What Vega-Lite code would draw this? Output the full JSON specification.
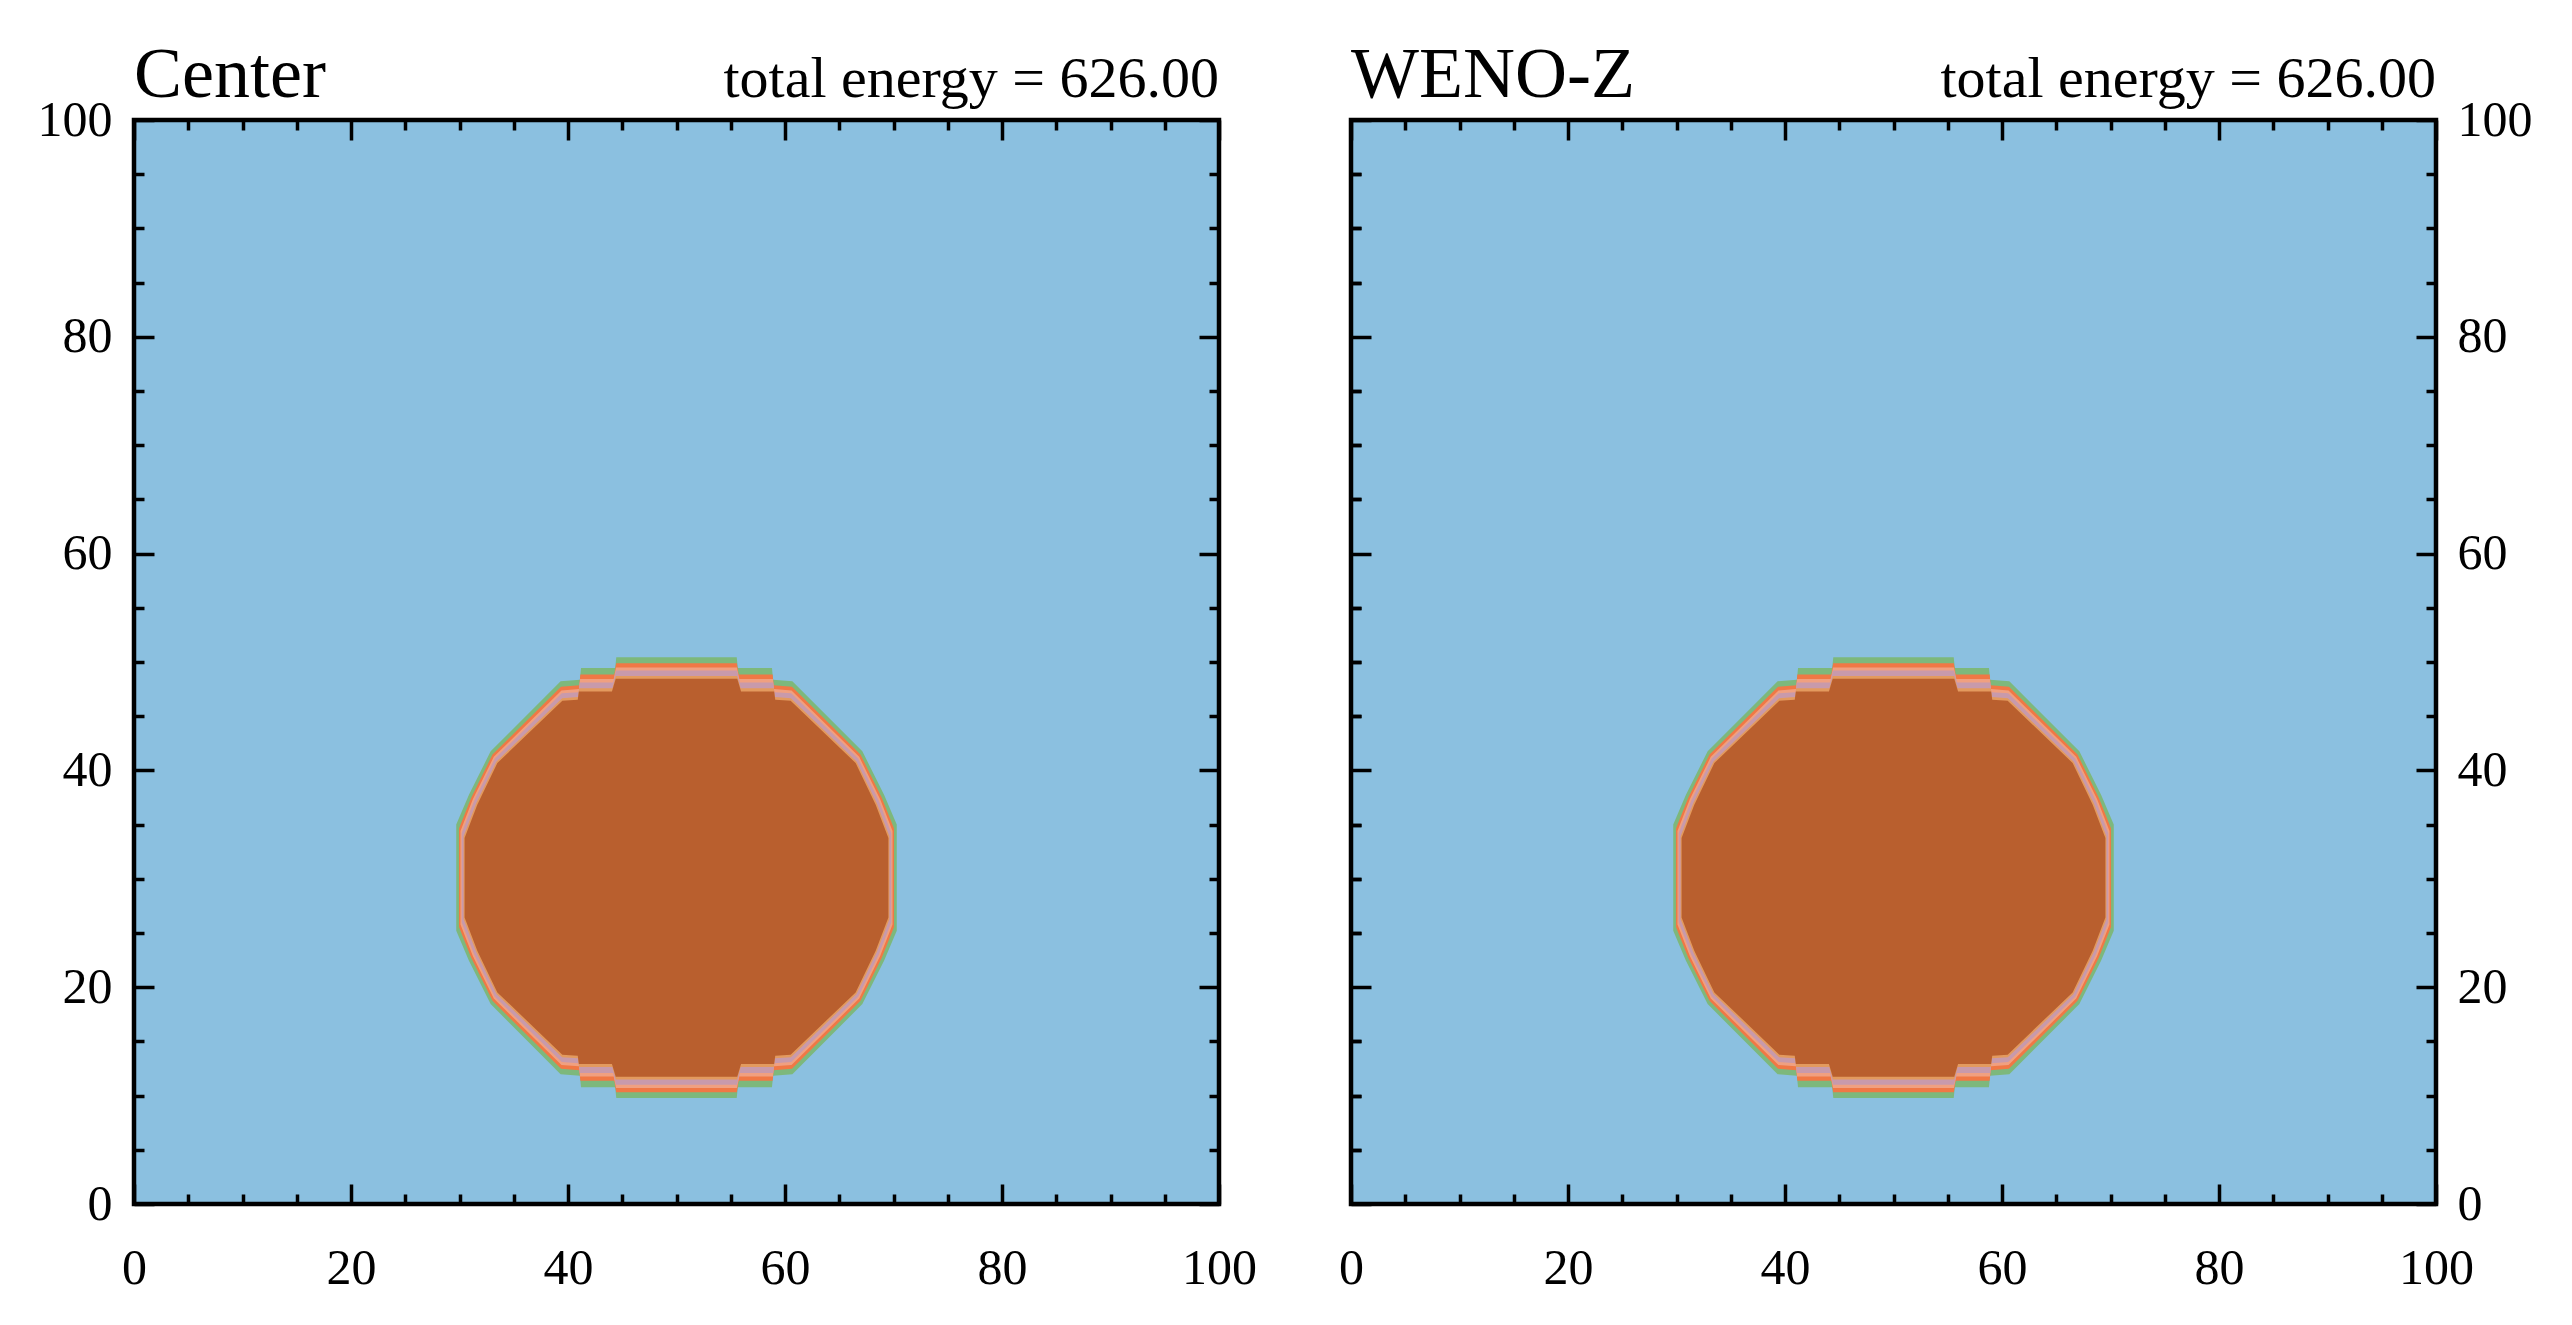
{
  "$schema": "https://vega.github.io/schema/vega-lite/v6.json",
  "background": "white",
  "padding": {"left": 34, "top": 36, "right": 10, "bottom": 10},
  "spacing": 77,
  "datasets": {
    "edge": [
      {"lvl": 1, "x": 29.70, "top": 35.00, "bot": 25.20},
      {"lvl": 1, "x": 30.87, "top": 37.76, "bot": 22.44},
      {"lvl": 1, "x": 32.87, "top": 41.76, "bot": 18.44},
      {"lvl": 1, "x": 39.32, "top": 48.22, "bot": 11.98},
      {"lvl": 1, "x": 41.10, "top": 48.37, "bot": 11.83},
      {"lvl": 1, "x": 41.20, "top": 49.44, "bot": 10.76},
      {"lvl": 1, "x": 44.35, "top": 49.44, "bot": 10.76},
      {"lvl": 1, "x": 44.45, "top": 50.43, "bot": 9.77},
      {"lvl": 1, "x": 55.55, "top": 50.43, "bot": 9.77},
      {"lvl": 1, "x": 55.65, "top": 49.44, "bot": 10.76},
      {"lvl": 1, "x": 58.80, "top": 49.44, "bot": 10.76},
      {"lvl": 1, "x": 58.90, "top": 48.37, "bot": 11.83},
      {"lvl": 1, "x": 60.68, "top": 48.22, "bot": 11.98},
      {"lvl": 1, "x": 67.13, "top": 41.76, "bot": 18.44},
      {"lvl": 1, "x": 69.13, "top": 37.76, "bot": 22.44},
      {"lvl": 1, "x": 70.30, "top": 35.00, "bot": 25.20},

      {"lvl": 2, "x": 29.95, "top": 34.65, "bot": 25.55},
      {"lvl": 2, "x": 31.09, "top": 37.50, "bot": 22.70},
      {"lvl": 2, "x": 33.04, "top": 41.46, "bot": 18.74},
      {"lvl": 2, "x": 39.36, "top": 47.72, "bot": 12.48},
      {"lvl": 2, "x": 41.04, "top": 47.85, "bot": 12.35},
      {"lvl": 2, "x": 41.14, "top": 48.84, "bot": 11.36},
      {"lvl": 2, "x": 44.27, "top": 48.84, "bot": 11.36},
      {"lvl": 2, "x": 44.44, "top": 49.88, "bot": 10.32},
      {"lvl": 2, "x": 55.56, "top": 49.88, "bot": 10.32},
      {"lvl": 2, "x": 55.73, "top": 48.84, "bot": 11.36},
      {"lvl": 2, "x": 58.86, "top": 48.84, "bot": 11.36},
      {"lvl": 2, "x": 58.96, "top": 47.85, "bot": 12.35},
      {"lvl": 2, "x": 60.64, "top": 47.72, "bot": 12.48},
      {"lvl": 2, "x": 66.96, "top": 41.46, "bot": 18.74},
      {"lvl": 2, "x": 68.91, "top": 37.50, "bot": 22.70},
      {"lvl": 2, "x": 70.05, "top": 34.65, "bot": 25.55},

      {"lvl": 3, "x": 30.09, "top": 34.42, "bot": 25.78},
      {"lvl": 3, "x": 31.23, "top": 37.33, "bot": 22.87},
      {"lvl": 3, "x": 33.16, "top": 41.25, "bot": 18.95},
      {"lvl": 3, "x": 39.40, "top": 47.38, "bot": 12.82},
      {"lvl": 3, "x": 41.01, "top": 47.50, "bot": 12.70},
      {"lvl": 3, "x": 41.11, "top": 48.43, "bot": 11.77},
      {"lvl": 3, "x": 44.21, "top": 48.43, "bot": 11.77},
      {"lvl": 3, "x": 44.43, "top": 49.50, "bot": 10.70},
      {"lvl": 3, "x": 55.57, "top": 49.50, "bot": 10.70},
      {"lvl": 3, "x": 55.79, "top": 48.43, "bot": 11.77},
      {"lvl": 3, "x": 58.89, "top": 48.43, "bot": 11.77},
      {"lvl": 3, "x": 58.99, "top": 47.50, "bot": 12.70},
      {"lvl": 3, "x": 60.60, "top": 47.38, "bot": 12.82},
      {"lvl": 3, "x": 66.84, "top": 41.25, "bot": 18.95},
      {"lvl": 3, "x": 68.77, "top": 37.33, "bot": 22.87},
      {"lvl": 3, "x": 69.91, "top": 34.42, "bot": 25.78},

      {"lvl": 4, "x": 30.20, "top": 34.23, "bot": 25.97},
      {"lvl": 4, "x": 31.35, "top": 37.19, "bot": 23.01},
      {"lvl": 4, "x": 33.25, "top": 41.09, "bot": 19.11},
      {"lvl": 4, "x": 39.42, "top": 47.11, "bot": 13.09},
      {"lvl": 4, "x": 40.98, "top": 47.22, "bot": 12.98},
      {"lvl": 4, "x": 41.08, "top": 48.11, "bot": 12.09},
      {"lvl": 4, "x": 44.16, "top": 48.11, "bot": 12.09},
      {"lvl": 4, "x": 44.42, "top": 49.21, "bot": 10.99},
      {"lvl": 4, "x": 55.58, "top": 49.21, "bot": 10.99},
      {"lvl": 4, "x": 55.84, "top": 48.11, "bot": 12.09},
      {"lvl": 4, "x": 58.92, "top": 48.11, "bot": 12.09},
      {"lvl": 4, "x": 59.02, "top": 47.22, "bot": 12.98},
      {"lvl": 4, "x": 60.58, "top": 47.11, "bot": 13.09},
      {"lvl": 4, "x": 66.75, "top": 41.09, "bot": 19.11},
      {"lvl": 4, "x": 68.65, "top": 37.19, "bot": 23.01},
      {"lvl": 4, "x": 69.80, "top": 34.23, "bot": 25.97},

      {"lvl": 5, "x": 30.38, "top": 33.92, "bot": 26.28},
      {"lvl": 5, "x": 31.54, "top": 36.96, "bot": 23.24},
      {"lvl": 5, "x": 33.41, "top": 40.82, "bot": 19.38},
      {"lvl": 5, "x": 39.46, "top": 46.66, "bot": 13.54},
      {"lvl": 5, "x": 40.93, "top": 46.76, "bot": 13.44},
      {"lvl": 5, "x": 41.03, "top": 47.57, "bot": 12.63},
      {"lvl": 5, "x": 44.09, "top": 47.57, "bot": 12.63},
      {"lvl": 5, "x": 44.41, "top": 48.72, "bot": 11.48},
      {"lvl": 5, "x": 55.59, "top": 48.72, "bot": 11.48},
      {"lvl": 5, "x": 55.91, "top": 47.57, "bot": 12.63},
      {"lvl": 5, "x": 58.97, "top": 47.57, "bot": 12.63},
      {"lvl": 5, "x": 59.07, "top": 46.76, "bot": 13.44},
      {"lvl": 5, "x": 60.54, "top": 46.66, "bot": 13.54},
      {"lvl": 5, "x": 66.59, "top": 40.82, "bot": 19.38},
      {"lvl": 5, "x": 68.46, "top": 36.96, "bot": 23.24},
      {"lvl": 5, "x": 69.62, "top": 33.92, "bot": 26.28},

      {"lvl": 6, "x": 30.47, "top": 33.76, "bot": 26.44},
      {"lvl": 6, "x": 31.64, "top": 36.84, "bot": 23.36},
      {"lvl": 6, "x": 33.49, "top": 40.68, "bot": 19.52},
      {"lvl": 6, "x": 39.48, "top": 46.43, "bot": 13.77},
      {"lvl": 6, "x": 40.90, "top": 46.52, "bot": 13.68},
      {"lvl": 6, "x": 41.00, "top": 47.29, "bot": 12.91},
      {"lvl": 6, "x": 44.05, "top": 47.29, "bot": 12.91},
      {"lvl": 6, "x": 44.40, "top": 48.46, "bot": 11.74},
      {"lvl": 6, "x": 55.60, "top": 48.46, "bot": 11.74},
      {"lvl": 6, "x": 55.95, "top": 47.29, "bot": 12.91},
      {"lvl": 6, "x": 59.00, "top": 47.29, "bot": 12.91},
      {"lvl": 6, "x": 59.10, "top": 46.52, "bot": 13.68},
      {"lvl": 6, "x": 60.52, "top": 46.43, "bot": 13.77},
      {"lvl": 6, "x": 66.51, "top": 40.68, "bot": 19.52},
      {"lvl": 6, "x": 68.36, "top": 36.84, "bot": 23.36},
      {"lvl": 6, "x": 69.53, "top": 33.76, "bot": 26.44}
    ]
  },
  "hconcat": [
    {
      "width": 1085,
      "height": 1084,
      "resolve": {"axis": {"x": "independent", "y": "independent"}},
      "layer": [
        {
          "data": {"name": "edge"},
          "transform": [{"filter": "datum.lvl == 1"}],
          "mark": {"type": "area", "orient": "vertical", "color": "#7db87c", "interpolate": "linear"},
          "encoding": {
            "x": {"field": "x", "type": "quantitative", "scale": {"domain": [0, 100], "nice": false, "zero": false},
                  "axis": {"orient": "bottom", "values": [0, 20, 40, 60, 80, 100], "ticks": false, "labelPadding": 39, "title": null}},
            "y": {"field": "top", "type": "quantitative", "scale": {"domain": [0, 100], "nice": false, "zero": false},
                  "axis": {"orient": "left", "values": [0, 20, 40, 60, 80, 100], "ticks": false, "labelPadding": 22, "title": null}},
            "y2": {"field": "bot"}
          }
        },
        {
          "data": {"name": "edge"},
          "transform": [{"filter": "datum.lvl == 2"}],
          "mark": {"type": "area", "orient": "vertical", "color": "#f07845", "interpolate": "linear"},
          "encoding": {
            "x": {"field": "x", "type": "quantitative", "scale": {"domain": [0, 100], "nice": false, "zero": false},
                  "axis": {"orient": "bottom", "values": [0, 20, 40, 60, 80, 100], "labels": false, "tickSize": -20, "title": null}},
            "y": {"field": "top", "type": "quantitative", "scale": {"domain": [0, 100], "nice": false, "zero": false},
                  "axis": {"orient": "left", "values": [0, 20, 40, 60, 80, 100], "labels": false, "tickSize": -20, "title": null}},
            "y2": {"field": "bot"}
          }
        },
        {
          "data": {"name": "edge"},
          "transform": [{"filter": "datum.lvl == 3"}],
          "mark": {"type": "area", "orient": "vertical", "color": "#f0a080", "interpolate": "linear"},
          "encoding": {
            "x": {"field": "x", "type": "quantitative", "scale": {"domain": [0, 100], "nice": false, "zero": false},
                  "axis": {"orient": "bottom", "values": [5, 10, 15, 25, 30, 35, 45, 50, 55, 65, 70, 75, 85, 90, 95], "labels": false, "tickSize": -10, "title": null}},
            "y": {"field": "top", "type": "quantitative", "scale": {"domain": [0, 100], "nice": false, "zero": false},
                  "axis": {"orient": "left", "values": [5, 10, 15, 25, 30, 35, 45, 50, 55, 65, 70, 75, 85, 90, 95], "labels": false, "tickSize": -10, "title": null}},
            "y2": {"field": "bot"}
          }
        },
        {
          "data": {"name": "edge"},
          "transform": [{"filter": "datum.lvl == 4"}],
          "mark": {"type": "area", "orient": "vertical", "color": "#c89aab", "interpolate": "linear"},
          "encoding": {
            "x": {"field": "x", "type": "quantitative", "scale": {"domain": [0, 100], "nice": false, "zero": false},
                  "axis": {"orient": "top", "values": [0, 20, 40, 60, 80, 100], "labels": false, "tickSize": -20, "title": null}},
            "y": {"field": "top", "type": "quantitative", "scale": {"domain": [0, 100], "nice": false, "zero": false},
                  "axis": {"orient": "right", "values": [0, 20, 40, 60, 80, 100], "labels": false, "tickSize": -20, "title": null}},
            "y2": {"field": "bot"}
          }
        },
        {
          "data": {"name": "edge"},
          "transform": [{"filter": "datum.lvl == 5"}],
          "mark": {"type": "area", "orient": "vertical", "color": "#e39a5e", "interpolate": "linear"},
          "encoding": {
            "x": {"field": "x", "type": "quantitative", "scale": {"domain": [0, 100], "nice": false, "zero": false},
                  "axis": {"orient": "top", "values": [5, 10, 15, 25, 30, 35, 45, 50, 55, 65, 70, 75, 85, 90, 95], "labels": false, "tickSize": -10, "title": null}},
            "y": {"field": "top", "type": "quantitative", "scale": {"domain": [0, 100], "nice": false, "zero": false},
                  "axis": {"orient": "right", "values": [5, 10, 15, 25, 30, 35, 45, 50, 55, 65, 70, 75, 85, 90, 95], "labels": false, "tickSize": -10, "title": null}},
            "y2": {"field": "bot"}
          }
        },
        {
          "data": {"name": "edge"},
          "transform": [{"filter": "datum.lvl == 6"}],
          "mark": {"type": "area", "orient": "vertical", "color": "#b95f2e", "interpolate": "linear"},
          "encoding": {
            "x": {"field": "x", "type": "quantitative", "scale": {"domain": [0, 100], "nice": false, "zero": false}, "axis": null},
            "y": {"field": "top", "type": "quantitative", "scale": {"domain": [0, 100], "nice": false, "zero": false}, "axis": null},
            "y2": {"field": "bot"}
          }
        },
        {
          "data": {"values": [{"name": "Center", "energy": "total energy = 626.00"}]},
          "layer": [
            {
              "mark": {"type": "text", "align": "left", "baseline": "alphabetic", "dy": -23, "font": "Liberation Serif", "fontSize": 72, "color": "black"},
              "encoding": {
                "x": {"datum": 0, "type": "quantitative", "axis": null},
                "y": {"datum": 100, "type": "quantitative", "axis": null},
                "text": {"field": "name"}
              }
            },
            {
              "mark": {"type": "text", "align": "right", "baseline": "alphabetic", "dy": -23, "font": "Liberation Serif", "fontSize": 58, "color": "black"},
              "encoding": {
                "x": {"datum": 100, "type": "quantitative", "axis": null},
                "y": {"datum": 100, "type": "quantitative", "axis": null},
                "text": {"field": "energy"}
              }
            }
          ]
        }
      ]
    },
    {
      "width": 1085,
      "height": 1084,
      "resolve": {"axis": {"x": "independent", "y": "independent"}},
      "layer": [
        {
          "data": {"name": "edge"},
          "transform": [{"filter": "datum.lvl == 1"}],
          "mark": {"type": "area", "orient": "vertical", "color": "#7db87c", "interpolate": "linear"},
          "encoding": {
            "x": {"field": "x", "type": "quantitative", "scale": {"domain": [0, 100], "nice": false, "zero": false},
                  "axis": {"orient": "bottom", "values": [0, 20, 40, 60, 80, 100], "ticks": false, "labelPadding": 39, "title": null}},
            "y": {"field": "top", "type": "quantitative", "scale": {"domain": [0, 100], "nice": false, "zero": false},
                  "axis": {"orient": "right", "values": [0, 20, 40, 60, 80, 100], "ticks": false, "labelPadding": 21, "title": null}},
            "y2": {"field": "bot"}
          }
        },
        {
          "data": {"name": "edge"},
          "transform": [{"filter": "datum.lvl == 2"}],
          "mark": {"type": "area", "orient": "vertical", "color": "#f07845", "interpolate": "linear"},
          "encoding": {
            "x": {"field": "x", "type": "quantitative", "scale": {"domain": [0, 100], "nice": false, "zero": false},
                  "axis": {"orient": "bottom", "values": [0, 20, 40, 60, 80, 100], "labels": false, "tickSize": -20, "title": null}},
            "y": {"field": "top", "type": "quantitative", "scale": {"domain": [0, 100], "nice": false, "zero": false},
                  "axis": {"orient": "left", "values": [0, 20, 40, 60, 80, 100], "labels": false, "tickSize": -20, "title": null}},
            "y2": {"field": "bot"}
          }
        },
        {
          "data": {"name": "edge"},
          "transform": [{"filter": "datum.lvl == 3"}],
          "mark": {"type": "area", "orient": "vertical", "color": "#f0a080", "interpolate": "linear"},
          "encoding": {
            "x": {"field": "x", "type": "quantitative", "scale": {"domain": [0, 100], "nice": false, "zero": false},
                  "axis": {"orient": "bottom", "values": [5, 10, 15, 25, 30, 35, 45, 50, 55, 65, 70, 75, 85, 90, 95], "labels": false, "tickSize": -10, "title": null}},
            "y": {"field": "top", "type": "quantitative", "scale": {"domain": [0, 100], "nice": false, "zero": false},
                  "axis": {"orient": "left", "values": [5, 10, 15, 25, 30, 35, 45, 50, 55, 65, 70, 75, 85, 90, 95], "labels": false, "tickSize": -10, "title": null}},
            "y2": {"field": "bot"}
          }
        },
        {
          "data": {"name": "edge"},
          "transform": [{"filter": "datum.lvl == 4"}],
          "mark": {"type": "area", "orient": "vertical", "color": "#c89aab", "interpolate": "linear"},
          "encoding": {
            "x": {"field": "x", "type": "quantitative", "scale": {"domain": [0, 100], "nice": false, "zero": false},
                  "axis": {"orient": "top", "values": [0, 20, 40, 60, 80, 100], "labels": false, "tickSize": -20, "title": null}},
            "y": {"field": "top", "type": "quantitative", "scale": {"domain": [0, 100], "nice": false, "zero": false},
                  "axis": {"orient": "right", "values": [0, 20, 40, 60, 80, 100], "labels": false, "tickSize": -20, "title": null}},
            "y2": {"field": "bot"}
          }
        },
        {
          "data": {"name": "edge"},
          "transform": [{"filter": "datum.lvl == 5"}],
          "mark": {"type": "area", "orient": "vertical", "color": "#e39a5e", "interpolate": "linear"},
          "encoding": {
            "x": {"field": "x", "type": "quantitative", "scale": {"domain": [0, 100], "nice": false, "zero": false},
                  "axis": {"orient": "top", "values": [5, 10, 15, 25, 30, 35, 45, 50, 55, 65, 70, 75, 85, 90, 95], "labels": false, "tickSize": -10, "title": null}},
            "y": {"field": "top", "type": "quantitative", "scale": {"domain": [0, 100], "nice": false, "zero": false},
                  "axis": {"orient": "right", "values": [5, 10, 15, 25, 30, 35, 45, 50, 55, 65, 70, 75, 85, 90, 95], "labels": false, "tickSize": -10, "title": null}},
            "y2": {"field": "bot"}
          }
        },
        {
          "data": {"name": "edge"},
          "transform": [{"filter": "datum.lvl == 6"}],
          "mark": {"type": "area", "orient": "vertical", "color": "#b95f2e", "interpolate": "linear"},
          "encoding": {
            "x": {"field": "x", "type": "quantitative", "scale": {"domain": [0, 100], "nice": false, "zero": false}, "axis": null},
            "y": {"field": "top", "type": "quantitative", "scale": {"domain": [0, 100], "nice": false, "zero": false},
                  "axis": {"orient": "left", "values": [5, 10, 15, 25, 30, 35, 45, 50, 55, 65, 70, 75, 85, 90, 95], "labels": false, "tickSize": -10, "title": null}},
            "y2": {"field": "bot"}
          }
        },
        {
          "data": {"values": [{"name": "WENO-Z", "energy": "total energy = 626.00"}]},
          "layer": [
            {
              "mark": {"type": "text", "align": "left", "baseline": "alphabetic", "dy": -23, "font": "Liberation Serif", "fontSize": 72, "color": "black"},
              "encoding": {
                "x": {"datum": 0, "type": "quantitative", "axis": null},
                "y": {"datum": 100, "type": "quantitative", "axis": null},
                "text": {"field": "name"}
              }
            },
            {
              "mark": {"type": "text", "align": "right", "baseline": "alphabetic", "dy": -23, "font": "Liberation Serif", "fontSize": 58, "color": "black"},
              "encoding": {
                "x": {"datum": 100, "type": "quantitative", "axis": null},
                "y": {"datum": 100, "type": "quantitative", "axis": null},
                "text": {"field": "energy"}
              }
            }
          ]
        }
      ]
    }
  ],
  "config": {
    "view": {"fill": "#8bc0e0", "stroke": "black", "strokeWidth": 4.5},
    "axis": {
      "domain": false,
      "grid": false,
      "tickColor": "black",
      "tickWidth": 3.5,
      "labelFont": "Liberation Serif",
      "labelFontSize": 50,
      "labelColor": "black",
      "labelFlush": false,
      "labelOverlap": false,
      "minExtent": 0,
      "maxExtent": 300
    }
  }
}
